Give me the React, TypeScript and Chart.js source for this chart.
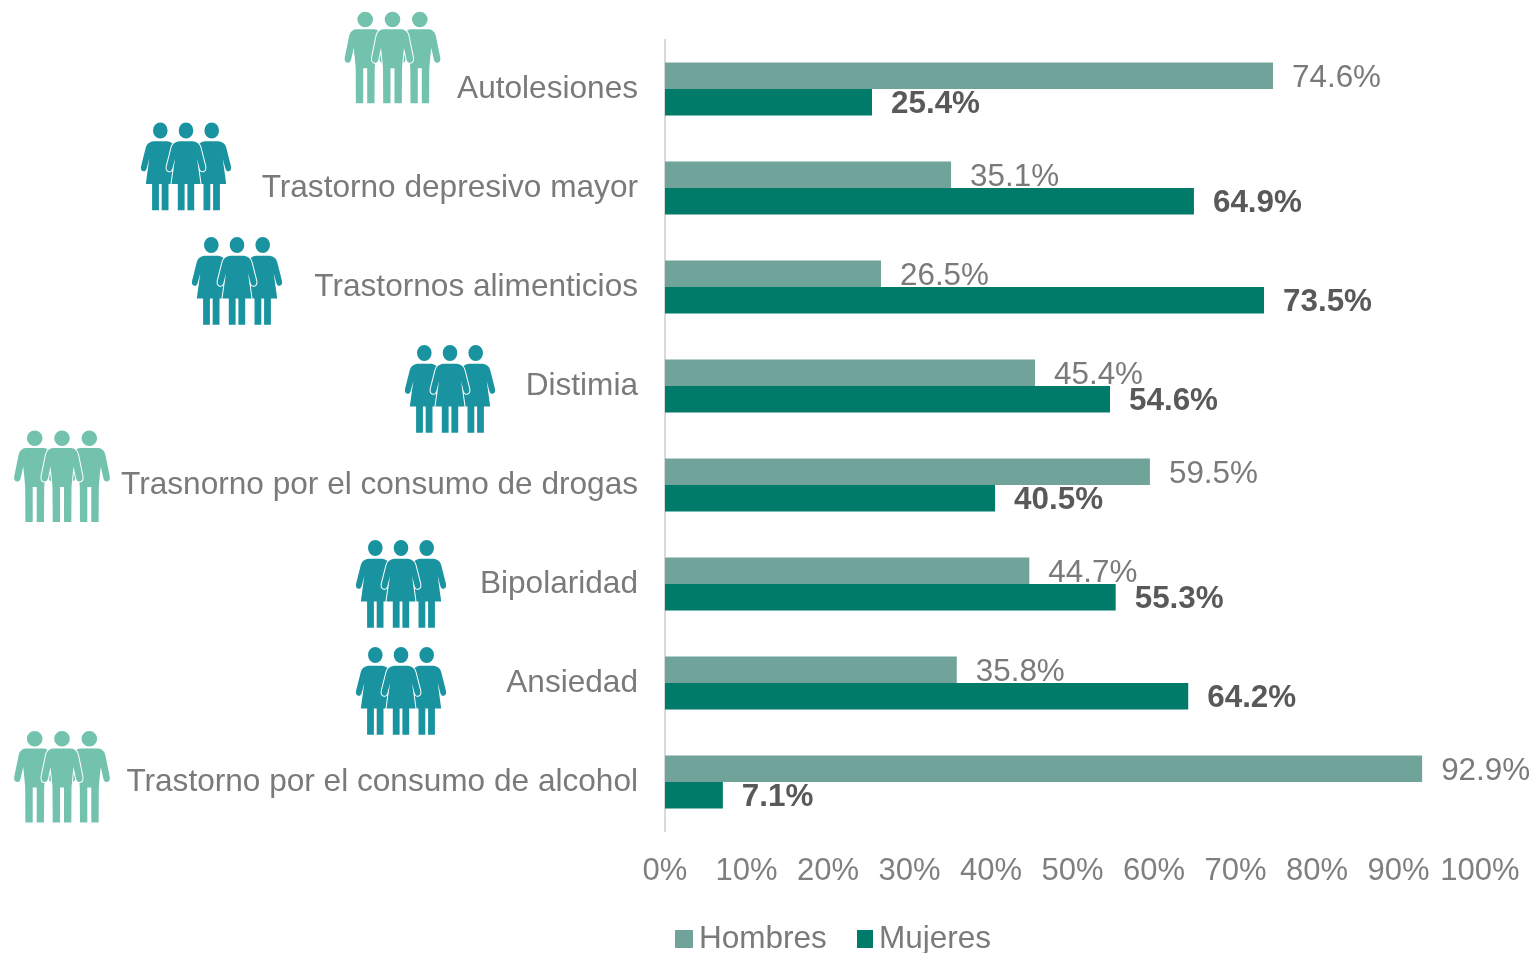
import React, { useEffect, useRef } from "react";
import { Chart, registerables } from "chart.js";

Chart.register(...registerables);

const categories = [
  "Autolesiones",
  "Trastorno depresivo mayor",
  "Trastornos alimenticios",
  "Distimia",
  "Trasnorno por el consumo de drogas",
  "Bipolaridad",
  "Ansiedad",
  "Trastorno por el consumo de alcohol",
];
const hombres = [74.6, 35.1, 26.5, 45.4, 59.5, 44.7, 35.8, 92.9];
const mujeres = [25.4, 64.9, 73.5, 54.6, 40.5, 55.3, 64.2, 7.1];
const iconKinds = ["man", "woman", "woman", "woman", "man", "woman", "woman", "man"];

const FONT = '"Liberation Sans", Arial, sans-serif';
const MAN = "#72c2ad";
const WOMAN = "#1a93a0";
// middle x and top y of each icon group
const iconCenterX = [392.5, 186, 237, 450, 62, 401, 401, 62];
const iconTopY = [11.7, 122.5, 237, 345, 430.5, 540, 647, 731];

function personPath(kind: string) {
  const p = new Path2D();
  if (kind === "man") {
    p.arc(0, 7.8, 7.8, 0, Math.PI * 2);
    p.moveTo(-9, 17.5);
    p.lineTo(9, 17.5);
    p.quadraticCurveTo(14.5, 18, 16, 24);
    p.lineTo(20.5, 46);
    p.quadraticCurveTo(21, 50.5, 17.8, 51);
    p.quadraticCurveTo(15, 51.5, 14, 47.5);
    p.lineTo(11.5, 36);
    p.lineTo(10.5, 45);
    p.lineTo(9.5, 56.5);
    p.lineTo(9.3, 91.5);
    p.lineTo(2, 91.5);
    p.lineTo(2, 56.5);
    p.lineTo(-2, 56.5);
    p.lineTo(-2, 91.5);
    p.lineTo(-9.3, 91.5);
    p.lineTo(-9.5, 56.5);
    p.lineTo(-10.5, 45);
    p.lineTo(-11.5, 36);
    p.lineTo(-14, 47.5);
    p.quadraticCurveTo(-15, 51.5, -17.8, 51);
    p.quadraticCurveTo(-21, 50.5, -20.5, 46);
    p.lineTo(-16, 24);
    p.quadraticCurveTo(-14.5, 18, -9, 17.5);
    p.closePath();
  } else {
    p.ellipse(0, 8, 7.3, 8, 0, 0, Math.PI * 2);
    p.moveTo(-7, 18.7);
    p.lineTo(7, 18.7);
    p.quadraticCurveTo(13, 19.5, 14.5, 25);
    p.lineTo(19.3, 44);
    p.quadraticCurveTo(20, 48, 17, 48.8);
    p.quadraticCurveTo(14.5, 49.3, 13.5, 45.5);
    p.lineTo(11, 36);
    p.lineTo(14.5, 61.5);
    p.lineTo(8.2, 61.5);
    p.lineTo(8.2, 87.7);
    p.lineTo(1.4, 87.7);
    p.lineTo(1.4, 61.5);
    p.lineTo(-1.4, 61.5);
    p.lineTo(-1.4, 87.7);
    p.lineTo(-8.2, 87.7);
    p.lineTo(-8.2, 61.5);
    p.lineTo(-14.5, 61.5);
    p.lineTo(-11, 36);
    p.lineTo(-13.5, 45.5);
    p.quadraticCurveTo(-14.5, 49.3, -17, 48.8);
    p.quadraticCurveTo(-20, 48, -19.3, 44);
    p.lineTo(-14.5, 25);
    p.quadraticCurveTo(-13, 19.5, -7, 18.7);
    p.closePath();
  }
  return p;
}

const iconPlugin = {
  id: "icons",
  afterDraw(chart: any) {
    const ctx = chart.ctx;
    iconKinds.forEach((kind, i) => {
      const path = personPath(kind);
      const gap = kind === "man" ? 27.3 : 25.7;
      const color = kind === "man" ? MAN : WOMAN;
      ctx.save();
      ctx.fillStyle = color;
      [-gap, gap, 0].forEach((dx) => {
        ctx.save();
        ctx.translate(iconCenterX[i] + dx, iconTopY[i]);
        if (dx === 0) {
          ctx.strokeStyle = "#ffffff";
          ctx.lineWidth = 2;
          ctx.stroke(path);
        }
        ctx.fill(path);
        ctx.restore();
      });
      ctx.restore();
    });
  },
};

const valueLabelPlugin = {
  id: "valueLabels",
  afterDatasetsDraw(chart: any) {
    const ctx = chart.ctx;
    chart.data.datasets.forEach((ds: any, di: number) => {
      chart.getDatasetMeta(di).data.forEach((bar: any, i: number) => {
        ctx.save();
        ctx.font = (di === 1 ? "bold " : "") + "31.4px " + FONT;
        ctx.fillStyle = di === 1 ? "#595959" : "#7a7a7a";
        ctx.textAlign = "left";
        ctx.textBaseline = "middle";
        ctx.fillText(ds.data[i].toFixed(1) + "%", bar.x + 19, bar.y + 2.5);
        ctx.restore();
      });
    });
  },
};

const legendPlugin = {
  id: "sideLegend",
  afterDraw(chart: any) {
    const ctx = chart.ctx;
    const lefts = [675, 857];
    chart.data.datasets.forEach((ds: any, di: number) => {
      ctx.save();
      ctx.fillStyle = ds.backgroundColor;
      ctx.fillRect(lefts[di], 930, di === 0 ? 18 : 16, 18);
      ctx.font = "31.5px " + FONT;
      ctx.fillStyle = "#7a7a7a";
      ctx.textBaseline = "middle";
      ctx.fillText(ds.label, lefts[di] + (di === 0 ? 24 : 22), 939);
      ctx.restore();
    });
  },
};

export default function App() {
  const ref = useRef<HTMLCanvasElement>(null);
  useEffect(() => {
    document.body.style.margin = "0";
    const chart = new Chart(ref.current!, {
      type: "bar",
      data: {
        labels: categories,
        datasets: [
          { label: "Hombres", data: hombres, backgroundColor: "#70a49a", categoryPercentage: 0.535, barPercentage: 1 },
          { label: "Mujeres", data: mujeres, backgroundColor: "#007a69", categoryPercentage: 0.535, barPercentage: 1 },
        ],
      },
      options: {
        indexAxis: "y",
        responsive: false,
        animation: false,
        layout: { autoPadding: false, padding: { left: 0, right: 56, top: 39.5, bottom: 0 } },
        plugins: { legend: { display: false }, tooltip: { enabled: false } },
        scales: {
          x: {
            min: 0,
            max: 100,
            grid: { display: false, drawTicks: false },
            border: { display: false },
            afterFit(scale: any) {
              scale.height = 121.5;
              scale.paddingLeft = 0;
              scale.paddingRight = 0;
            },
            ticks: {
              stepSize: 10,
              autoSkip: false,
              maxRotation: 0,
              padding: 21,
              color: "#7f7f7f",
              font: { family: FONT, size: 31 },
              callback: (v: any) => v + "%",
            },
          },
          y: {
            grid: { display: false, drawTicks: false },
            border: { display: true, color: "#d9d9d9", width: 2 },
            afterFit(scale: any) {
              scale.width = 665;
              scale.paddingTop = 0;
              scale.paddingBottom = 0;
            },
            ticks: {
              autoSkip: false,
              padding: 27,
              color: "#7a7a7a",
              font: { family: FONT, size: 31.6 },
            },
          },
        },
      },
      plugins: [valueLabelPlugin, iconPlugin, legendPlugin],
    } as any);
    return () => chart.destroy();
  }, []);
  return (
    <canvas
      ref={ref}
      width={1536}
      height={953}
      style={{ display: "block", position: "absolute", left: 0, top: 0, filter: "blur(0.6px)" }}
    />
  );
}
